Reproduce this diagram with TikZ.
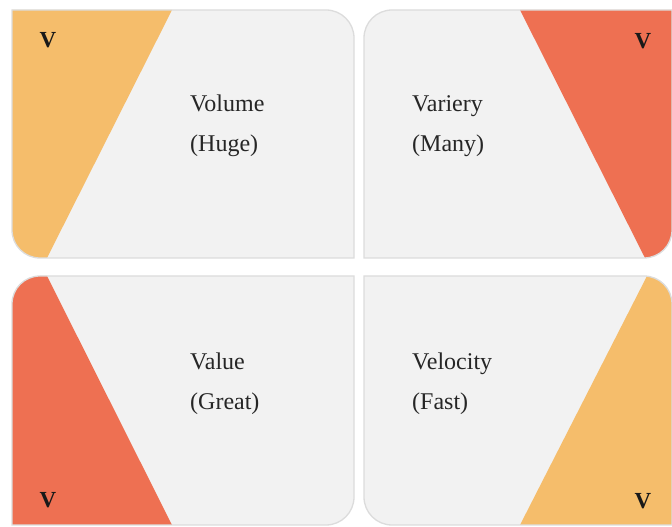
\documentclass[tikz,border=0pt]{standalone}
\usepackage{fontspec}
\setmainfont{Liberation Serif}
\usepackage{xcolor}
\usetikzlibrary{positioning}

\definecolor{panelgray}{HTML}{F2F2F2}
\definecolor{edgegray}{HTML}{DCDCDC}
\definecolor{warmorange}{HTML}{F5BD6B}
\definecolor{warmred}{HTML}{EE7052}

\begin{document}
\begin{tikzpicture}[
  x=1pt, y=1pt,
  panel/.style={fill=panelgray},
  rim/.style={draw=edgegray, line width=1.3pt},
  label/.style={anchor=base west, align=left, inner sep=0pt, text=black!85,
                font=\fontsize{24}{40}\selectfont},
  tag/.style={inner sep=0pt, text=black!90, font=\fontsize{23}{23}\selectfont\bfseries}
]
\useasboundingbox[fill=white] (0,0) rectangle (672,527);

% Volume (top left)
\begin{scope}
  \clip (12,517) -- (326,517) arc[start angle=90, end angle=0, radius=28]
    -- (354,269) -- (40,269) arc[start angle=270, end angle=180, radius=28] -- cycle;
  \fill[panel] (0,260) rectangle (360,527);
  \fill[warmorange] (12,517) -- (172,517) -- (47,269) -- (0,269) -- (0,517) -- cycle;
\end{scope}
\draw[rim] (12,517) -- (326,517) arc[start angle=90, end angle=0, radius=28]
  -- (354,269) -- (40,269) arc[start angle=270, end angle=180, radius=28] -- cycle;

% Variety (top right)
\begin{scope}
  \clip (364,489) arc[start angle=180, end angle=90, radius=28] -- (672,517)
    -- (672,297) arc[start angle=0, end angle=-90, radius=28] -- (364,269) -- cycle;
  \fill[panel] (360,260) rectangle (672,527);
  \fill[warmred] (520,517) -- (680,517) -- (680,269) -- (645,269) -- cycle;
\end{scope}
\draw[rim] (364,489) arc[start angle=180, end angle=90, radius=28] -- (672,517)
  -- (672,297) arc[start angle=0, end angle=-90, radius=28] -- (364,269) -- cycle;

% Value (bottom left)
\begin{scope}
  \clip (12,223) arc[start angle=180, end angle=90, radius=28] -- (354,251)
    -- (354,30) arc[start angle=0, end angle=-90, radius=28] -- (12,2) -- cycle;
  \fill[panel] (0,0) rectangle (360,260);
  \fill[warmred] (0,251) -- (47,251) -- (172,2) -- (0,2) -- cycle;
\end{scope}
\draw[rim] (12,223) arc[start angle=180, end angle=90, radius=28] -- (354,251)
  -- (354,30) arc[start angle=0, end angle=-90, radius=28] -- (12,2) -- cycle;

% Velocity (bottom right)
\begin{scope}
  \clip (364,251) -- (644,251) arc[start angle=90, end angle=0, radius=28]
    -- (672,2) -- (392,2) arc[start angle=270, end angle=180, radius=28] -- cycle;
  \fill[panel] (360,0) rectangle (672,260);
  \fill[warmorange] (647,251) -- (680,251) -- (680,2) -- (520,2) -- cycle;
\end{scope}
\draw[rim] (364,251) -- (644,251) arc[start angle=90, end angle=0, radius=28]
  -- (672,2) -- (392,2) arc[start angle=270, end angle=180, radius=28] -- cycle;

% texts (base = last line)
\node[label] (volume) at (190,375) {Volume\\(Huge)};
\node[label] (variety) at (412,375) {Variery\\(Many)};
\node[label] (value) at (190,117) {Value\\(Great)};
\node[label] (velocity) at (412,117) {Velocity\\(Fast)};

\node[tag] (tagvolume) at (48,487) {V};
\node[tag] (tagvariety) at (643,486) {V};
\node[tag] (tagvalue) at (48,27) {V};
\node[tag] (tagvelocity) at (643,26) {V};
\end{tikzpicture}
\end{document}
